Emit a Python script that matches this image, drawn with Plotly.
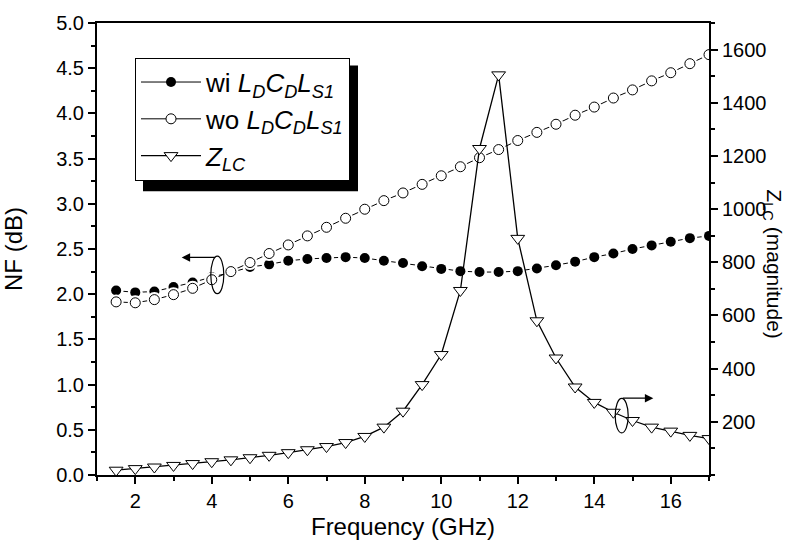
import plotly.graph_objects as go

# ---------------- data ----------------
freq = [1.5, 2.0, 2.5, 3.0, 3.5, 4.0, 4.5, 5.0, 5.5, 6.0, 6.5, 7.0, 7.5, 8.0, 8.5, 9.0,
        9.5, 10.0, 10.5, 11.0, 11.5, 12.0, 12.5, 13.0, 13.5, 14.0, 14.5, 15.0, 15.5, 16.0, 16.5, 17.0]
nf_with = [2.04, 2.02, 2.03, 2.08, 2.13, 2.19, 2.24, 2.30, 2.33, 2.37, 2.39, 2.40, 2.41, 2.40, 2.37, 2.345,
           2.31, 2.28, 2.255, 2.245, 2.245, 2.255, 2.285, 2.32, 2.36, 2.41, 2.45, 2.50, 2.54, 2.58, 2.62, 2.645]
nf_without = [1.915, 1.905, 1.94, 1.995, 2.065, 2.16, 2.25, 2.35, 2.45, 2.545, 2.645, 2.74, 2.84, 2.94, 3.035, 3.12,
              3.215, 3.31, 3.41, 3.51, 3.60, 3.70, 3.79, 3.88, 3.98, 4.07, 4.17, 4.26, 4.36, 4.45, 4.55, 4.65]
z_lc = [18, 24, 30, 36, 43, 50, 57, 65, 74, 84, 95, 107, 122, 145, 180, 240,
        340, 453, 694, 1228, 1505, 890, 580, 440, 331, 273, 236, 205, 180, 165, 149, 137]

nf_ticks = [0.0, 0.5, 1.0, 1.5, 2.0, 2.5, 3.0, 3.5, 4.0, 4.5, 5.0]
z_ticks = [200, 400, 600, 800, 1000, 1200, 1400, 1600]
f_ticks = [2, 4, 6, 8, 10, 12, 14, 16]

name_with = "wi <i>L<sub>D</sub>C<sub>D</sub>L<sub>S1</sub></i>"
name_without = "wo <i>L<sub>D</sub>C<sub>D</sub>L<sub>S1</sub></i>"
name_z = "<i>Z<sub>LC</sub></i>"

FONT = "Arial, Liberation Sans, Helvetica, sans-serif"

# ---------------- layout geometry ----------------
W, H = 811, 551
ML, MR, MT, MB = 97, 102, 18, 76
PW, PH = W - ML - MR, H - MT - MB


def px(xp):
    return (xp - ML) / PW


def py(yp):
    return (H - MB - yp) / PH


fig = go.Figure()

# wi series: line + gap-making white halo + black dot
fig.add_trace(go.Scatter(x=freq, y=nf_with, mode="lines+markers", name=name_with,
                         line=dict(color="black", width=1),
                         marker=dict(symbol="circle", size=10, color="black",
                                     line=dict(color="black", width=0))))
fig.add_trace(go.Scatter(x=freq, y=nf_with, mode="markers", showlegend=False, hoverinfo="skip",
                         marker=dict(symbol="circle", size=15, color="white", line=dict(width=0))))
fig.add_trace(go.Scatter(x=freq, y=nf_with, mode="markers", showlegend=False,
                         marker=dict(symbol="circle", size=10, color="black", line=dict(width=0))))

# wo series
fig.add_trace(go.Scatter(x=freq, y=nf_without, mode="lines+markers", name=name_without,
                         line=dict(color="black", width=1),
                         marker=dict(symbol="circle", size=10, color="white",
                                     line=dict(color="black", width=1))))
fig.add_trace(go.Scatter(x=freq, y=nf_without, mode="markers", showlegend=False, hoverinfo="skip",
                         marker=dict(symbol="circle", size=15, color="white", line=dict(width=0))))
fig.add_trace(go.Scatter(x=freq, y=nf_without, mode="markers", showlegend=False,
                         marker=dict(symbol="circle", size=10, color="white",
                                     line=dict(color="black", width=1))))

# Z_LC on right axis
fig.add_trace(go.Scatter(x=freq, y=z_lc, mode="lines+markers", name=name_z, yaxis="y2",
                         line=dict(color="black", width=1.3),
                         marker=dict(symbol="triangle-down", size=12, color="white",
                                     line=dict(color="black", width=1))))

axis_common = dict(showline=True, linecolor="black", linewidth=2, showgrid=False, zeroline=False,
                   ticks="outside", ticklen=7, tickwidth=1.5, tickcolor="black",
                   tickfont=dict(family=FONT, size=20, color="black"))

fig.update_layout(
    width=W, height=H,
    margin=dict(l=ML, r=MR, t=MT, b=MB),
    paper_bgcolor="white", plot_bgcolor="white",
    font=dict(family=FONT, size=20, color="black"),
    xaxis=dict(range=[1, 17], tickvals=f_ticks, mirror=True,
               minor=dict(dtick=1, ticks="outside", ticklen=4, tickcolor="black"),
               title=dict(text="Frequency (GHz)", font=dict(family=FONT, size=24), standoff=7),
               **axis_common),
    yaxis=dict(range=[0, 5], tickvals=nf_ticks, tickformat=".1f",
               minor=dict(dtick=0.25, ticks="outside", ticklen=4, tickcolor="black"),
               title=dict(text="NF (dB)", font=dict(family=FONT, size=24), standoff=27),
               **axis_common),
    yaxis2=dict(range=[0, 1700], tickvals=z_ticks, overlaying="y", side="right",
                minor=dict(dtick=100, ticks="outside", ticklen=4, tickcolor="black"),
                **axis_common),
    showlegend=True,
    legend=dict(x=px(135), y=py(53), xanchor="left", yanchor="top",
                bgcolor="white", bordercolor="black", borderwidth=1,
                font=dict(family=FONT, size=26, color="black"),
                itemwidth=60, tracegroupgap=0),
)

# legend shadow
fig.add_shape(type="rect", xref="paper", yref="paper", layer="below",
              x0=px(143), x1=px(358), y0=py(188), y1=py(61),
              fillcolor="black", line=dict(width=0))

# ellipses marking axis association
fig.add_shape(type="circle", xref="paper", yref="paper",
              x0=px(210.8), x1=px(223.8), y0=py(291.7), y1=py(253.7),
              line=dict(color="black", width=1.2))
fig.add_shape(type="circle", xref="paper", yref="paper",
              x0=px(615.2), x1=px(628.2), y0=py(432.5), y1=py(397.5),
              line=dict(color="black", width=1.2))

# arrows
fig.add_annotation(x=px(181.7), y=py(255), xref="paper", yref="paper", text="",
                   showarrow=True, ax=35, ay=0, arrowhead=2, arrowsize=1.3,
                   arrowwidth=1.3, arrowcolor="black")
fig.add_annotation(x=px(653.3), y=py(397.3), xref="paper", yref="paper", text="",
                   showarrow=True, ax=-32, ay=0, arrowhead=2, arrowsize=1.3,
                   arrowwidth=1.3, arrowcolor="black")

# right axis title (reads top to bottom)
fig.add_annotation(x=px(773), y=py(262), xref="paper", yref="paper", xanchor="center",
                   yanchor="middle", text="Z<sub>LC</sub> (magnitude)", textangle=90,
                   showarrow=False, font=dict(family=FONT, size=21, color="black"))

fig.write_html("out.html")
